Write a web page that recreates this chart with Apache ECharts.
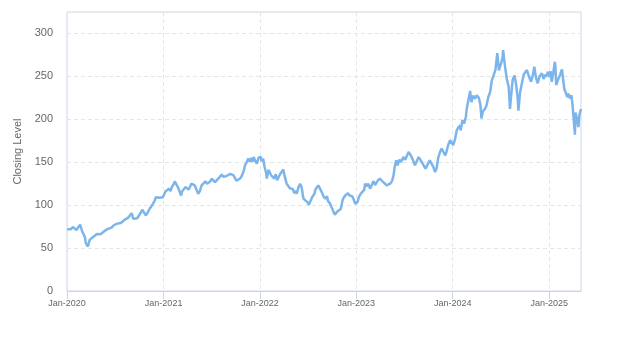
<!DOCTYPE html>
<html>
<head>
<meta charset="utf-8">
<script src="https://cdn.jsdelivr.net/npm/echarts@6/dist/echarts.min.js"></script>
<style>
  html, body { margin: 0; padding: 0; background: #ffffff; }
  #chart { width: 623px; height: 350px; }
</style>
</head>
<body>
<div id="chart"></div>
<script>
// Closing levels, [date, close], one array per calendar year
const close2020 = [
  ["2020-01-02", 72.0], ["2020-01-09", 73.2], ["2020-01-16", 72.0], ["2020-01-23", 74.5],
  ["2020-01-30", 73.0], ["2020-02-06", 71.0], ["2020-02-13", 74.5], ["2020-02-20", 77.2],
  ["2020-02-27", 70.0], ["2020-03-03", 68.5], ["2020-03-09", 62.5], ["2020-03-12", 56.0],
  ["2020-03-16", 55.5], ["2020-03-20", 51.8], ["2020-03-24", 54.0], ["2020-03-27", 59.6],
  ["2020-04-02", 58.0], ["2020-04-09", 63.0], ["2020-04-16", 64.8], ["2020-04-23", 66.5],
  ["2020-04-30", 67.5], ["2020-05-07", 66.2], ["2020-05-14", 67.2], ["2020-05-21", 69.5],
  ["2020-05-28", 68.8], ["2020-06-04", 72.4], ["2020-06-11", 74.5], ["2020-06-18", 73.8],
  ["2020-06-25", 76.3], ["2020-07-02", 76.0], ["2020-07-09", 78.5], ["2020-07-16", 80.1],
  ["2020-07-23", 79.2], ["2020-07-30", 81.5], ["2020-08-06", 82.9], ["2020-08-13", 83.5],
  ["2020-08-20", 85.5], ["2020-08-27", 87.5], ["2020-09-02", 90.7], ["2020-09-08", 84.0],
  ["2020-09-15", 86.0], ["2020-09-23", 84.8], ["2020-09-30", 87.0], ["2020-10-07", 91.5],
  ["2020-10-12", 94.6], ["2020-10-19", 93.0], ["2020-10-26", 88.0], ["2020-11-02", 91.5],
  ["2020-11-09", 95.8], ["2020-11-16", 98.0], ["2020-11-20", 100.8], ["2020-11-27", 104.5],
  ["2020-12-03", 109.3], ["2020-12-09", 107.5], ["2020-12-15", 108.6], ["2020-12-22", 110.5],
  ["2020-12-29", 109.3]
];

const close2021 = [
  ["2021-01-05", 111.0], ["2021-01-08", 116.0], ["2021-01-14", 117.5], ["2021-01-21", 119.0],
  ["2021-01-27", 116.5], ["2021-02-01", 121.0], ["2021-02-08", 124.5], ["2021-02-12", 127.7],
  ["2021-02-19", 126.0], ["2021-02-25", 120.5], ["2021-03-02", 122.5], ["2021-03-08", 111.3],
  ["2021-03-12", 116.0], ["2021-03-18", 118.0], ["2021-03-24", 121.0], ["2021-03-31", 119.5],
  ["2021-04-06", 118.3], ["2021-04-12", 122.0], ["2021-04-16", 125.0], ["2021-04-23", 126.0],
  ["2021-04-29", 123.0], ["2021-05-05", 118.5], ["2021-05-12", 113.3], ["2021-05-18", 116.0],
  ["2021-05-25", 123.0], ["2021-06-01", 122.5], ["2021-06-08", 127.7], ["2021-06-15", 125.0],
  ["2021-06-21", 126.2], ["2021-06-28", 128.0], ["2021-07-02", 130.8], ["2021-07-09", 128.5],
  ["2021-07-15", 126.9], ["2021-07-21", 129.0], ["2021-07-27", 130.8], ["2021-08-03", 131.5],
  ["2021-08-09", 135.5], ["2021-08-16", 133.0], ["2021-08-20", 130.8], ["2021-08-27", 134.0],
  ["2021-09-03", 134.7], ["2021-09-10", 136.5], ["2021-09-16", 138.6], ["2021-09-22", 135.0],
  ["2021-09-28", 132.7], ["2021-10-04", 128.5], ["2021-10-11", 126.9], ["2021-10-18", 131.0],
  ["2021-10-25", 134.7], ["2021-11-01", 140.5], ["2021-11-05", 146.4], ["2021-11-10", 149.0],
  ["2021-11-18", 154.2], ["2021-11-23", 151.0], ["2021-11-30", 155.0], ["2021-12-03", 150.5],
  ["2021-12-08", 156.0], ["2021-12-13", 152.2], ["2021-12-20", 148.4], ["2021-12-27", 155.5],
  ["2021-12-31", 157.2]
];

const close2022 = [
  ["2022-01-04", 156.0], ["2022-01-07", 151.0], ["2022-01-13", 154.2], ["2022-01-18", 145.0],
  ["2022-01-24", 138.0], ["2022-01-27", 131.0], ["2022-02-02", 141.0], ["2022-02-08", 139.0],
  ["2022-02-14", 134.0], ["2022-02-18", 135.5], ["2022-02-24", 131.0], ["2022-03-02", 136.0],
  ["2022-03-07", 129.0], ["2022-03-14", 130.8], ["2022-03-18", 136.0], ["2022-03-24", 138.5],
  ["2022-03-30", 141.5], ["2022-04-06", 132.0], ["2022-04-12", 125.0], ["2022-04-19", 126.0],
  ["2022-04-25", 119.5], ["2022-04-29", 121.0], ["2022-05-05", 119.0], ["2022-05-11", 114.0],
  ["2022-05-16", 116.5], ["2022-05-20", 113.3], ["2022-05-27", 121.0], ["2022-06-02", 125.0],
  ["2022-06-08", 120.5], ["2022-06-13", 110.0], ["2022-06-16", 107.0], ["2022-06-23", 109.3],
  ["2022-06-30", 103.5], ["2022-07-05", 100.5], ["2022-07-12", 102.0], ["2022-07-19", 110.0],
  ["2022-07-26", 113.0], ["2022-07-29", 117.5], ["2022-08-04", 120.5], ["2022-08-10", 123.0],
  ["2022-08-16", 122.5], ["2022-08-23", 115.2], ["2022-08-30", 110.0], ["2022-09-06", 107.5],
  ["2022-09-12", 110.5], ["2022-09-16", 104.5], ["2022-09-23", 102.0], ["2022-09-29", 97.7],
  ["2022-10-06", 96.0], ["2022-10-11", 89.0], ["2022-10-14", 88.0], ["2022-10-21", 92.5],
  ["2022-10-27", 93.8], ["2022-11-03", 95.5], ["2022-11-10", 106.0], ["2022-11-15", 109.3],
  ["2022-11-22", 112.0], ["2022-11-30", 114.0], ["2022-12-06", 111.3], ["2022-12-13", 113.3],
  ["2022-12-16", 110.5], ["2022-12-22", 106.5], ["2022-12-28", 101.6]
];

const close2023 = [
  ["2023-01-06", 104.0], ["2023-01-10", 109.0], ["2023-01-17", 113.0], ["2023-01-24", 115.5],
  ["2023-01-31", 118.0], ["2023-02-03", 125.0], ["2023-02-09", 122.0], ["2023-02-15", 125.0],
  ["2023-02-22", 119.2], ["2023-03-01", 121.5], ["2023-03-07", 128.0], ["2023-03-13", 123.5],
  ["2023-03-17", 121.8], ["2023-03-23", 128.5], ["2023-03-31", 130.8], ["2023-04-06", 129.5],
  ["2023-04-13", 126.9], ["2023-04-19", 128.5], ["2023-04-26", 123.0], ["2023-05-03", 124.5],
  ["2023-05-09", 125.0], ["2023-05-16", 128.0], ["2023-05-22", 134.7], ["2023-05-26", 144.0],
  ["2023-06-01", 152.2], ["2023-06-06", 146.4], ["2023-06-13", 153.0], ["2023-06-20", 150.2],
  ["2023-06-28", 156.0], ["2023-07-05", 153.0], ["2023-07-11", 152.2], ["2023-07-18", 161.9],
  ["2023-07-24", 159.2], ["2023-07-31", 155.0], ["2023-08-04", 152.2], ["2023-08-11", 146.4],
  ["2023-08-18", 148.4], ["2023-08-25", 156.0], ["2023-08-30", 154.2], ["2023-09-06", 150.2],
  ["2023-09-12", 148.4], ["2023-09-20", 142.5], ["2023-09-26", 144.0], ["2023-10-06", 152.2],
  ["2023-10-12", 150.0], ["2023-10-20", 144.4], ["2023-10-26", 138.6], ["2023-11-01", 143.0],
  ["2023-11-07", 155.0], ["2023-11-14", 161.9], ["2023-11-20", 165.9], ["2023-11-27", 164.7],
  ["2023-12-04", 158.0], ["2023-12-08", 161.9], ["2023-12-15", 170.0], ["2023-12-22", 175.6]
];

const close2024 = [
  ["2024-01-03", 170.0], ["2024-01-05", 168.5], ["2024-01-10", 177.0], ["2024-01-16", 187.0],
  ["2024-01-22", 190.5], ["2024-01-29", 193.0], ["2024-01-31", 187.0], ["2024-02-07", 199.0],
  ["2024-02-13", 195.0], ["2024-02-20", 203.0], ["2024-02-23", 212.0], ["2024-03-01", 214.0],
  ["2024-03-07", 233.0], ["2024-03-12", 220.0], ["2024-03-19", 227.5], ["2024-03-26", 224.0],
  ["2024-04-01", 228.0], ["2024-04-09", 225.0], ["2024-04-15", 217.0], ["2024-04-19", 201.0],
  ["2024-04-24", 209.0], ["2024-05-02", 212.0], ["2024-05-08", 216.0], ["2024-05-15", 226.0],
  ["2024-05-22", 232.0], ["2024-05-28", 245.0], ["2024-06-05", 252.0], ["2024-06-11", 258.0],
  ["2024-06-18", 277.0], ["2024-06-24", 257.0], ["2024-06-28", 259.0], ["2024-07-03", 266.0],
  ["2024-07-08", 272.0], ["2024-07-10", 280.5], ["2024-07-17", 262.0], ["2024-07-24", 247.0],
  ["2024-07-31", 238.0], ["2024-08-05", 212.0], ["2024-08-09", 226.0], ["2024-08-15", 245.7],
  ["2024-08-22", 251.0], ["2024-08-28", 241.0], ["2024-09-03", 225.0], ["2024-09-06", 210.0],
  ["2024-09-12", 231.0], ["2024-09-19", 241.8], ["2024-09-26", 252.0], ["2024-10-02", 250.0],
  ["2024-10-08", 257.4], ["2024-10-14", 259.0], ["2024-10-18", 248.0], ["2024-10-24", 243.7],
  ["2024-10-31", 252.0], ["2024-11-05", 261.2], ["2024-11-12", 247.7], ["2024-11-18", 242.0],
  ["2024-11-25", 250.0], ["2024-12-04", 253.5], ["2024-12-10", 247.0], ["2024-12-16", 252.0],
  ["2024-12-20", 249.5], ["2024-12-27", 255.4]
];

const close2025 = [
  ["2025-01-02", 249.5], ["2025-01-06", 256.0], ["2025-01-10", 243.7], ["2025-01-15", 252.0],
  ["2025-01-22", 267.0], ["2025-01-24", 262.0], ["2025-01-27", 240.0], ["2025-02-03", 246.0],
  ["2025-02-11", 252.0], ["2025-02-18", 258.0], ["2025-02-21", 250.0], ["2025-02-27", 235.0],
  ["2025-03-03", 232.0], ["2025-03-10", 226.0], ["2025-03-14", 230.0], ["2025-03-20", 224.3],
  ["2025-03-26", 228.0], ["2025-03-31", 212.6], ["2025-04-03", 210.6], ["2025-04-08", 182.0],
  ["2025-04-10", 208.0], ["2025-04-14", 203.0], ["2025-04-21", 191.0], ["2025-04-25", 205.0],
  ["2025-05-01", 212.0]
];

// Year starts used for ticks, labels and vertical grid lines
const yearTicks = ["2020-01-01", "2021-01-01", "2022-01-01", "2023-01-01", "2024-01-01", "2025-01-01"];
const monthNames = ["Jan", "Feb", "Mar", "Apr", "May", "Jun", "Jul", "Aug", "Sep", "Oct", "Nov", "Dec"];

const toTime = d => Date.UTC(+d.slice(0, 4), +d.slice(5, 7) - 1, +d.slice(8, 10));
const closes = [].concat(close2020, close2021, close2022, close2023, close2024, close2025)
  .map(p => [toTime(p[0]), p[1]]);
const tickTimes = yearTicks.map(toTime);

const axisColor = "#ccd6eb";
const gridColor = "#e6e6e6";
const textColor = "#666666";
const fontFamily = "'Liberation Sans', Arial, sans-serif";

const chart = echarts.init(document.getElementById("chart"), null, { renderer: "canvas" });
chart.setOption({
  animation: false,
  backgroundColor: "#ffffff",
  grid: {
    left: 67, right: 42, top: 12, bottom: 59,
    show: true, borderColor: axisColor, borderWidth: 1, backgroundColor: "transparent"
  },
  xAxis: {
    type: "value",
    min: tickTimes[0],
    max: closes[closes.length - 1][0],
    axisLine: { show: true, lineStyle: { color: axisColor, width: 1 } },
    axisTick: { show: true, length: 8, customValues: tickTimes, lineStyle: { color: axisColor } },
    axisLabel: {
      customValues: tickTimes,
      margin: 8,
      color: textColor,
      fontSize: 9,
      fontFamily: fontFamily,
      formatter: function (v) {
        const d = new Date(v);
        return monthNames[d.getUTCMonth()] + "-" + d.getUTCFullYear();
      }
    },
    splitLine: { show: true, lineStyle: { color: gridColor, type: [4, 3], width: 1 } }
  },
  yAxis: {
    type: "value",
    min: 0,
    max: 325,
    interval: 50,
    name: "Closing Level",
    nameLocation: "middle",
    nameGap: 40,
    nameTextStyle: { color: textColor, fontSize: 11, fontFamily: fontFamily },
    axisLine: { show: false },
    axisTick: { show: false },
    axisLabel: {
      margin: 14, color: textColor, fontSize: 11, fontFamily: fontFamily,
      showMaxLabel: false,
      formatter: v => (v % 50 === 0 ? String(v) : "")
    },
    splitLine: { show: true, lineStyle: { color: gridColor, type: [4, 3], width: 1 } }
  },
  series: [{
    name: "Closing Level",
    type: "line",
    data: closes,
    showSymbol: false,
    symbol: "none",
    lineStyle: { color: "#7cb5ec", width: 2.5 },
    itemStyle: { color: "#7cb5ec" }
  }]
});
</script>
</body>
</html>
